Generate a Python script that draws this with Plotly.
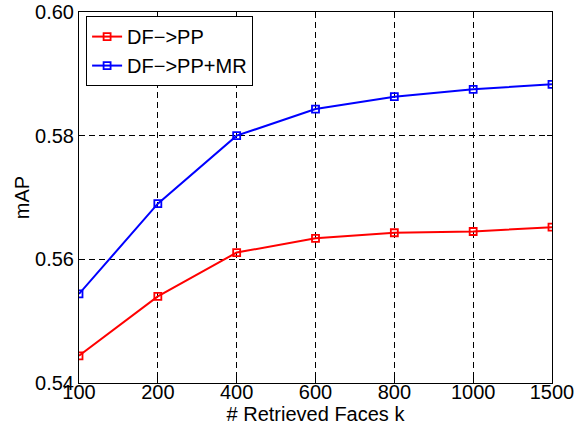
import plotly.graph_objects as go

k_labels = ["100", "200", "400", "600", "800", "1000", "1500"]
df_pp = [0.5444, 0.5540, 0.5611, 0.5634, 0.5643, 0.5645, 0.5652]
df_pp_mr = [0.5544, 0.5690, 0.5800, 0.5843, 0.5863, 0.5875, 0.5883]

fig = go.Figure()
fig.add_trace(go.Scatter(x=k_labels, y=df_pp, mode="lines+markers", name="DF−>PP",
                         line=dict(color="#ff0000", width=2),
                         marker=dict(symbol="square-open", size=7, color="#ff0000", line=dict(width=1.8))))
fig.add_trace(go.Scatter(x=k_labels, y=df_pp_mr, mode="lines+markers", name="DF−>PP+MR",
                         line=dict(color="#0000ff", width=2),
                         marker=dict(symbol="square-open", size=7, color="#0000ff", line=dict(width=1.8))))

font = dict(family="Liberation Sans, Arial, sans-serif", size=20, color="black")
fig.update_layout(
    width=577, height=429,
    margin=dict(l=79, r=25, t=12, b=46),
    paper_bgcolor="white", plot_bgcolor="white",
    font=font,
    showlegend=True,
    legend=dict(x=0.015, y=0.989, xanchor="left", yanchor="top",
                bgcolor="white", bordercolor="black", borderwidth=1,
                font=dict(family=font["family"], size=20, color="black"),
                tracegroupgap=0, itemwidth=30),
    xaxis=dict(type="category", range=[0, 6], showline=True, linecolor="black", linewidth=1,
               mirror="ticks", showgrid=True, gridcolor="black", griddash="6px,4px", gridwidth=1,
               ticks="inside", ticklen=5, tickcolor="black", zeroline=False, automargin=False,
               ticklabelstandoff=-9,
               title=dict(text="# Retrieved Faces k", standoff=0, font=font),
               tickfont=font),
    yaxis=dict(range=[0.54, 0.60], tickvals=[0.54, 0.56, 0.58, 0.60],
               ticktext=["0.54", "0.56", "0.58", "0.60"],
               showline=True, linecolor="black", linewidth=1,
               mirror="ticks", showgrid=True, gridcolor="black", griddash="6px,4px", gridwidth=1,
               ticks="inside", ticklen=5, tickcolor="black", zeroline=False, automargin=False,
               title=dict(text="mAP", standoff=0, font=font),
               tickfont=font),
)
fig.write_html("out.html", config={"displayModeBar": False},
               post_script="document.body.style.margin='0';document.body.style.overflow='hidden';")
